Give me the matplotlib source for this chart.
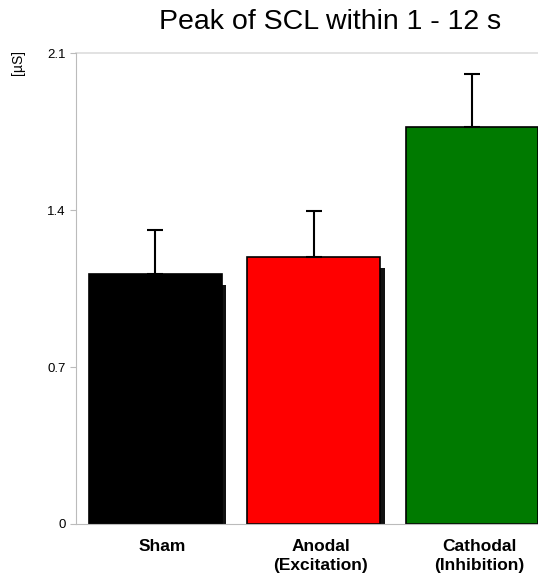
import matplotlib
matplotlib.use('Agg')
import matplotlib.pyplot as plt
import matplotlib.transforms as mtransforms
import numpy as np

# values
groups = ['Sham', 'Anodal\n(Excitation)', 'Cathodal\n(Inhibition)']
peak = [1.115, 1.19, 1.77]
err = [0.195, 0.205, 0.235]
colors = ['#000000', '#ff0000', '#007a00']
yticks = [0, 0.7, 1.4, 2.1]

plt.rcParams['font.family'] = ['Liberation Sans', 'DejaVu Sans']

fig = plt.figure(figsize=(5.38, 5.75), dpi=100)
ax = fig.add_axes([0.1413, 0.0887, 0.8587, 0.8191])

x = np.arange(len(groups))
w = 0.84
# dark shadow behind each bar
ax.bar(x + 0.028, np.array(peak) - 0.05, width=w, color='#111111', zorder=1)
ax.bar(x, peak, width=w, color=colors, edgecolor='black', linewidth=1.2, zorder=2)
ax.errorbar(x, peak, yerr=[np.zeros(len(err)), err], fmt='none', ecolor='black',
            elinewidth=1.5, capsize=6, capthick=1.5, zorder=3)

ax.set_ylim(0, 2.1)
ax.set_xlim(-0.502, 2.417)
ax.set_yticks(yticks)
ax.set_yticklabels(['0', '0.7', '1.4', '2.1'], fontsize=9.5)
ax.tick_params(axis='y', color='#bbbbbb', length=4)
ax.set_xticks(x)
ax.set_xticklabels(groups, fontsize=12.5, fontweight='bold', linespacing=1.3)
ax.tick_params(axis='x', length=0, pad=11)
offset = mtransforms.ScaledTranslation(0.07, 0, fig.dpi_scale_trans)
for lab in ax.get_xticklabels():
    lab.set_transform(lab.get_transform() + offset)
ax.axhline(2.1, color='#dddddd', linewidth=1.2, zorder=0, clip_on=False)

for s in ['top', 'right']:
    ax.spines[s].set_visible(False)
ax.spines['left'].set_color('#bbbbbb')
ax.spines['bottom'].set_color('#bbbbbb')

fig.text(0.02, 0.87, '[µS]', rotation=90, fontsize=10, ha='left', va='bottom')
fig.text(0.613, 0.962, 'Peak of SCL within 1 - 12 s', fontsize=20.5, ha='center', va='center')

plt.savefig('out.png', dpi=100)
